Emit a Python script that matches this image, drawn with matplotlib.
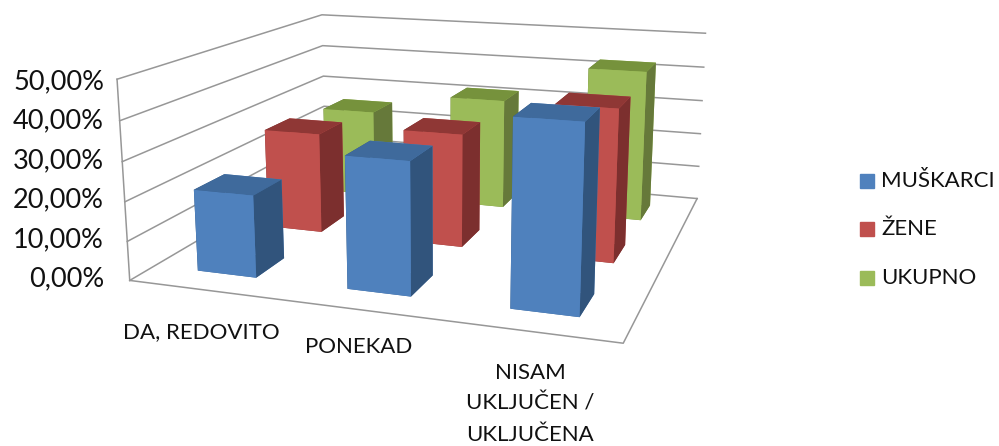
import numpy as np
import matplotlib
matplotlib.use("Agg")
import matplotlib.pyplot as plt
from matplotlib.patches import Rectangle

plt.rcParams['font.family'] = ['Lato', 'DejaVu Sans']

categories = ["DA, REDOVITO", "PONEKAD", "NISAM\nUKLJUČEN /\nUKLJUČENA"]
series_names = ["MUŠKARCI", "ŽENE", "UKUPNO"]
muskarci = [21.0, 33.0, 45.2]
zene = [27.5, 30.5, 40.2]
ukupno = [25.5, 31.7, 42.6]
y_ticks = [0, 10, 20, 30, 40, 50]
y_labels = ["0,00%", "10,00%", "20,00%", "30,00%", "40,00%", "50,00%"]

# front, top and side shades per series
front = ["#4F81BD", "#C0504D", "#9BBB59"]
top = ["#3F6A9C", "#8F3735", "#76923C"]
side = ["#31547C", "#7C2F2E", "#66793A"]
grid_col = "#979797"
text_col = "#111111"

fig = plt.figure(figsize=(9.99, 4.46), dpi=100)
ax = fig.add_axes([114.3 / 999, -28.3 / 446, 639 / 999, 639 / 446], projection='3d')
ax.set_proj_type('persp', focal_length=0.362)
ax.view_init(elev=13.8, azim=-71.2)
ax.set_box_aspect((2.433, 2.343, 1.0))
ax.set_axis_off()
ax.computed_zorder = False
ax.set_xlim(0, 3)
ax.set_ylim(0, 3)
ax.set_zlim(0, 50)

# walls and floor outline
for t in y_ticks:
    ax.plot([0, 0, 3], [0, 3, 3], [t, t, t], color=grid_col, lw=1.1, zorder=1)
ax.plot([0, 0], [0, 0], [0, 50], color=grid_col, lw=1.1, zorder=1)
ax.plot([0, 3, 3], [0, 0, 3], [0, 0, 0], color=grid_col, lw=1.1, zorder=1)

# back to front so the bars overlap correctly
z = 2
for s, vals in reversed(list(enumerate([muskarci, zene, ukupno]))):
    for c, v in enumerate(vals):
        faces = [top[s], top[s], front[s], front[s], side[s], side[s]]
        ax.bar3d(c + 0.3, s + 0.3, 0, 0.4, 0.4, v, color=faces, shade=False, zorder=z)
        z += 1

for lab, yy in zip(y_labels, [279, 240, 200, 161, 121, 82]):
    fig.text(104 / 999, 1 - yy / 446, lab, ha='right', va='center', fontsize=19.5, color=text_col)
fig.text(201 / 999, 1 - 332 / 446, categories[0], ha='center', va='center', fontsize=16, color=text_col)
fig.text(359 / 999, 1 - 347 / 446, categories[1], ha='center', va='center', fontsize=16, color=text_col)
fig.text(530 / 999, 1 - 404 / 446, categories[2], ha='center', va='center', fontsize=16, color=text_col, linespacing=1.66)

for name, col, yy in zip(series_names, front, [181, 229, 278]):
    fig.add_artist(Rectangle((860 / 999, 1 - (yy + 7) / 446), 14 / 999, 14 / 446, transform=fig.transFigure, color=col))
    fig.text(881 / 999, 1 - yy / 446, name, ha='left', va='center', fontsize=16, color=text_col)

fig.savefig("out.png", dpi=100)
